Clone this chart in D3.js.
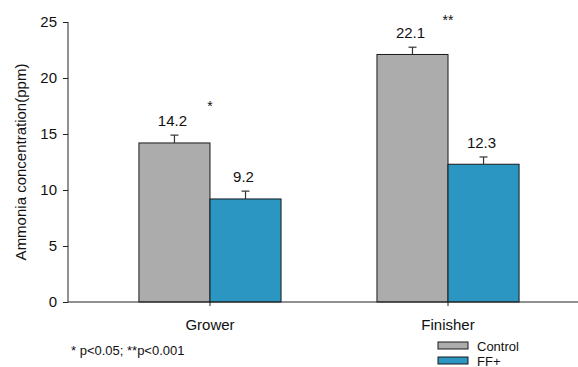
<!DOCTYPE html>
<html>
<head>
<meta charset="utf-8">
<script src="https://cdn.jsdelivr.net/npm/d3@7"></script>
<style>
  html, body { margin: 0; padding: 0; background: #fff; }
  svg { display: block; font-family: Arial, "Liberation Sans", Helvetica, sans-serif; }
</style>
</head>
<body>
<svg id="chart" width="578" height="367"></svg>
<script>
// Ammonia concentration by production phase
const phases = ["Grower", "Finisher"];
const treatments = ["Control", "FF+"];
const controlValues = [14.2, 22.1];
const ffValues = [9.2, 12.3];
const controlErrors = [0.7, 0.65];
const ffErrors = [0.7, 0.65];
const significance = ["*", "**"];
const yTicks = [0, 5, 10, 15, 20, 25];
const colors = ["#acacac", "#2b96c2"];

const rows = [];
phases.forEach((p, i) => {
  rows.push({ phase: p, treatment: treatments[0], value: controlValues[i], err: controlErrors[i] });
  rows.push({ phase: p, treatment: treatments[1], value: ffValues[i], err: ffErrors[i] });
});

const svg = d3.select("#chart");

const y = d3.scaleLinear().domain([0, 25]).range([302, 22]);
const x0 = d3.scaleBand().domain(phases).range([68, 590])
  .paddingInner(0.403).paddingOuter(0.298);
const x1 = d3.scaleBand().domain(treatments).range([0, x0.bandwidth()]).padding(0);
const color = d3.scaleOrdinal().domain(treatments).range(colors);

// bars
const bars = svg.append("g");
bars.selectAll("rect").data(rows).join("rect")
  .attr("x", d => x0(d.phase) + x1(d.treatment))
  .attr("y", d => y(d.value))
  .attr("width", x1.bandwidth())
  .attr("height", d => y(0) - y(d.value))
  .attr("fill", d => color(d.treatment))
  .attr("stroke", "#1a1a1a")
  .attr("stroke-width", 1);

// error bars (upper only)
const cx = d => x0(d.phase) + x1(d.treatment) + x1.bandwidth() / 2;
const eb = svg.append("g").attr("stroke", "#333").attr("stroke-width", 1.2);
eb.selectAll("line.v").data(rows).join("line").attr("class", "v")
  .attr("x1", cx).attr("x2", cx)
  .attr("y1", d => y(d.value)).attr("y2", d => y(d.value + d.err));
eb.selectAll("line.h").data(rows).join("line").attr("class", "h")
  .attr("x1", d => cx(d) - 4).attr("x2", d => cx(d) + 4)
  .attr("y1", d => y(d.value + d.err)).attr("y2", d => y(d.value + d.err));

// value labels
svg.append("g").selectAll("text").data(rows).join("text")
  .attr("x", d => cx(d) - 2)
  .attr("y", d => y(d.value + d.err) - 9)
  .attr("text-anchor", "middle")
  .attr("font-size", 15)
  .attr("fill", "#111")
  .text(d => d.value.toFixed(1));

// significance marks
const sigY = [y(controlValues[0] + controlErrors[0]) + 111 - 135, y(controlValues[1] + controlErrors[1]) + 24 - 46.7];
svg.append("g").selectAll("text").data(phases).join("text")
  .attr("x", d => x0(d) + x0.bandwidth() / 2)
  .attr("y", (d, i) => sigY[i])
  .attr("text-anchor", "middle")
  .attr("font-size", 14)
  .attr("fill", "#111")
  .text((d, i) => significance[i]);

// y axis
const yAxis = svg.append("g").attr("transform", "translate(68,0)")
  .call(d3.axisLeft(y).tickValues(yTicks).tickSize(5).tickPadding(6).tickFormat(d3.format("d")));
yAxis.select(".domain").attr("stroke", "#222").attr("d", `M0,${y(25)}V${y(0)}`);
yAxis.selectAll(".tick line").attr("stroke", "#222");
yAxis.selectAll(".tick text").attr("font-size", 15).attr("fill", "#111").attr("font-family", null);

// x axis
const xAxis = svg.append("g").attr("transform", `translate(0,${y(0)})`)
  .call(d3.axisBottom(x0).tickSize(4).tickPadding(13));
xAxis.select(".domain").attr("stroke", "#222").attr("d", "M68,0H590");
xAxis.selectAll(".tick line").attr("stroke", "#222");
xAxis.selectAll(".tick text").attr("font-size", 15).attr("fill", "#111").attr("font-family", null);

// y axis title
svg.append("text")
  .attr("transform", "translate(26,162) rotate(-90)")
  .attr("text-anchor", "middle")
  .attr("font-size", 15)
  .attr("fill", "#111")
  .text("Ammonia concentration(ppm)");

// footnote
svg.append("text")
  .attr("x", 71).attr("y", 355)
  .attr("font-size", 13)
  .attr("fill", "#111")
  .text("* p<0.05; **p<0.001");

// legend
const legend = svg.append("g");
const li = legend.selectAll("g").data(treatments).join("g")
  .attr("transform", (d, i) => `translate(438,${342 + i * 15})`);
li.append("rect").attr("width", 30).attr("height", 7)
  .attr("fill", d => color(d)).attr("stroke", "#1a1a1a").attr("stroke-width", 1);
li.append("text").attr("x", 39).attr("y", 8.5)
  .attr("font-size", 13).attr("fill", "#111")
  .text(d => d);
</script>
</body>
</html>
